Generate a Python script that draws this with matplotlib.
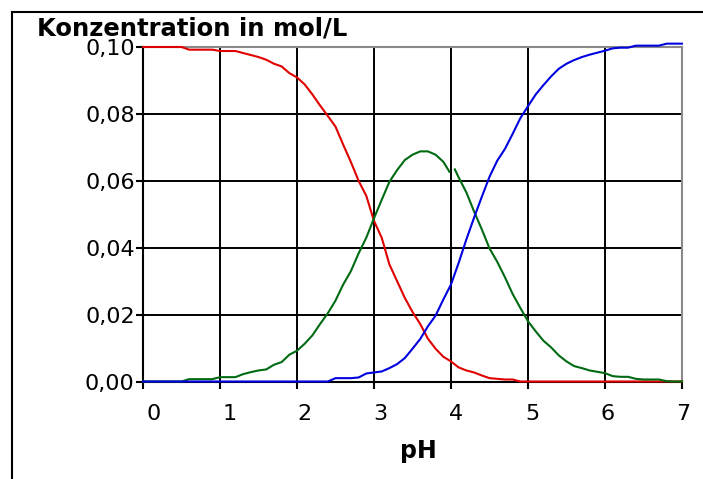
import numpy as np
import matplotlib
matplotlib.use('Agg')
import matplotlib.pyplot as plt
from matplotlib.transforms import ScaledTranslation
from matplotlib.lines import Line2D

# pH grid for red and blue curves
ph = [round(0.1 * i, 1) for i in range(71)]

# H2A (red)
c_red = [0.1000, 0.1000, 0.1000, 0.1000, 0.1000, 0.1000, 0.0992, 0.0992, 0.0992, 0.0992,
         0.0988, 0.0988, 0.0988, 0.0982, 0.0976, 0.0970, 0.0962, 0.0950, 0.0942, 0.0922,
         0.0909, 0.0888, 0.0858, 0.0825, 0.0794, 0.0762, 0.0708, 0.0656, 0.0600, 0.0555,
         0.0480, 0.0430, 0.0350, 0.0300, 0.0250, 0.0208, 0.0172, 0.0128, 0.0098, 0.0074,
         0.0060, 0.0042, 0.0033, 0.0027, 0.0018, 0.0010, 0.0008, 0.0006, 0.0006, 0.0000,
         0.0, 0.0, 0.0, 0.0, 0.0, 0.0, 0.0, 0.0, 0.0, 0.0,
         0.0, 0.0, 0.0, 0.0, 0.0, 0.0, 0.0, 0.0, 0.0, 0.0, 0.0]

# A2- (blue)
c_blue = [0.0, 0.0, 0.0, 0.0, 0.0, 0.0, 0.0, 0.0, 0.0, 0.0,
          0.0, 0.0, 0.0, 0.0, 0.0, 0.0, 0.0, 0.0, 0.0, 0.0,
          0.0, 0.0, 0.0, 0.0, 0.0, 0.0010, 0.0010, 0.0010, 0.0012, 0.0024,
          0.0027, 0.0030, 0.0040, 0.0052, 0.0070, 0.0098, 0.0127, 0.0165, 0.0197, 0.0245,
          0.0290, 0.0355, 0.0425, 0.0490, 0.0552, 0.0612, 0.0660, 0.0695, 0.0740, 0.0787,
          0.0823, 0.0858, 0.0886, 0.0912, 0.0935, 0.0950, 0.0961, 0.0970, 0.0977, 0.0983,
          0.0989, 0.0996, 0.0998, 0.0998, 0.1004, 0.1004, 0.1004, 0.1004, 0.1010, 0.1010, 0.1010]

# HA- (green), drawn with a small break just after pH 4
ph_green = ph[:40] + [3.98, 4.01, 4.05] + ph[41:]
c_green = [0.0, 0.0, 0.0, 0.0, 0.0, 0.0, 0.0007, 0.0007, 0.0007, 0.0007,
           0.0013, 0.0013, 0.0013, 0.0022, 0.0028, 0.0033, 0.0036, 0.0050, 0.0058, 0.0080,
           0.0092, 0.0113, 0.0138, 0.0172, 0.0204, 0.0242, 0.0290, 0.0330, 0.0383, 0.0430,
           0.0488, 0.0543, 0.0597, 0.0632, 0.0662, 0.0678, 0.0688, 0.0688, 0.0678, 0.0657,
           0.0627, np.nan, 0.0634,
           0.0610, 0.0565, 0.0508, 0.0455, 0.0398, 0.0358, 0.0312, 0.0262, 0.0220,
           0.0180, 0.0150, 0.0122, 0.0102, 0.0078, 0.0060, 0.0046, 0.0040, 0.0033, 0.0029,
           0.0025, 0.0016, 0.0014, 0.0014, 0.0008, 0.0006, 0.0006, 0.0006, 0.0001, 0.0, 0.0]

x_ticks = [0, 1, 2, 3, 4, 5, 6, 7]
y_ticks = [0.00, 0.02, 0.04, 0.06, 0.08, 0.10]
y_labels = ['0,00', '0,02', '0,04', '0,06', '0,08', '0,10']

fig = plt.figure(figsize=(7.03, 4.79), dpi=100)
ax = fig.add_axes([143 / 703, 1 - 381.5 / 479, 539 / 703, 334.5 / 479])

ax.plot(ph, c_red, color='#e00000', lw=1.5, clip_on=False, zorder=3)
ax.plot(ph_green, c_green, color='#006a12', lw=1.5, clip_on=False, zorder=3)
ax.plot(ph, c_blue, color='#0000e0', lw=1.5, clip_on=False, zorder=3)

ax.set_xlim(0, 7)
ax.set_ylim(0, 0.1)
ax.set_xticks(x_ticks)
ax.set_yticks(y_ticks)
ax.set_yticklabels(y_labels)
ax.grid(True, color='black', lw=1.4)
ax.set_axisbelow(True)

for s in ['left', 'bottom']:
    ax.spines[s].set_color('black')
    ax.spines[s].set_linewidth(1.5)
for s in ['top', 'right']:
    ax.spines[s].set_color('#8a8a8a')
    ax.spines[s].set_linewidth(1.5)

ax.tick_params(axis='both', direction='out', length=5, width=1.5, color='black', labelsize=16)
ax.tick_params(axis='x', pad=11)
ax.tick_params(axis='y', pad=1)

# x tick labels sit slightly off their ticks in the original
for i, lbl in enumerate(ax.get_xticklabels()):
    dx = (10.5 - 1.3 * i) * 72 / 100
    lbl.set_transform(lbl.get_transform() + ScaledTranslation(dx / 72, 0, fig.dpi_scale_trans))

fig.text(37 / 703, 1 - 36 / 479, 'Konzentration in mol/L', fontsize=17.5, fontweight='bold',
         ha='left', va='baseline')
fig.text(418.7 / 703, 1 - 458 / 479, 'pH', fontsize=17, fontweight='bold',
         ha='center', va='baseline')

# outer frame (only top and left edges are visible)
fig.add_artist(Line2D([12 / 703, 1.0], [1 - 12 / 479, 1 - 12 / 479], color='black', lw=1.5,
                      transform=fig.transFigure))
fig.add_artist(Line2D([12 / 703, 12 / 703], [0.0, 1 - 12 / 479], color='black', lw=1.5,
                      transform=fig.transFigure))

fig.savefig('out.png', dpi=100)
